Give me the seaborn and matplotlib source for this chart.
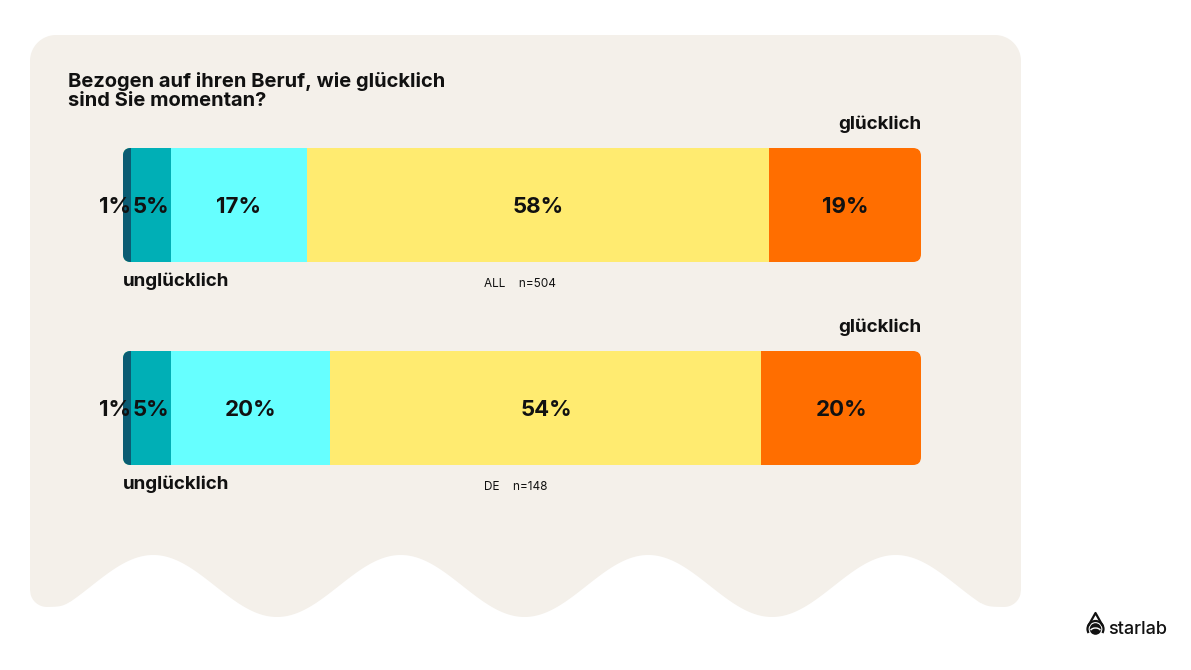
import numpy as np
import pandas as pd
import matplotlib
matplotlib.use("Agg")
import matplotlib.pyplot as plt
import seaborn as sns
from matplotlib.patches import Polygon, FancyBboxPatch, Circle, Arc
from matplotlib.path import Path
from matplotlib.patches import PathPatch

# ---------------- data ----------------
groups = ["ALL", "DE"]
sample_sizes = [504, 148]
segments = ["sehr unglücklich", "unglücklich", "neutral", "glücklich", "sehr glücklich"]
values_all = [1, 5, 17, 58, 19]
values_de = [1, 5, 20, 54, 20]
seg_colors = ["#0B5C73", "#00AFB6", "#66FFFF", "#FFEB70", "#FF6E00"]
title = "Bezogen auf ihren Beruf, wie glücklich\nsind Sie momentan?"
label_left = "unglücklich"
label_right = "glücklich"

W, H = 1191, 670
sns.set_theme(style="white")
plt.rcParams["font.family"] = ["Inter", "DejaVu Sans"]

fig = plt.figure(figsize=(W / 100, H / 100), dpi=100)
fig.patch.set_facecolor("white")

# ---------------- background panel with wavy bottom ----------------
bg = fig.add_axes([0, 0, 1, 1], zorder=0)
bg.set_xlim(0, W)
bg.set_ylim(H, 0)
bg.axis("off")
x0, x1, ytop, r = 30, 1021, 35, 26
xs = np.linspace(x0, x1, 1400)
wave = 586 + 31 * np.cos(2 * np.pi * (xs - 277) / 247.5)
rc = 17
ybase = 607
cap = np.full_like(xs, np.inf)
near = (xs < x0 + 40) | (xs > x1 - 40)
cap[near] = ybase
ml = xs < x0 + rc
cap[ml] = ybase - rc + np.sqrt(np.clip(rc**2 - (xs[ml] - (x0 + rc)) ** 2, 0, None))
mr = xs > x1 - rc
cap[mr] = ybase - rc + np.sqrt(np.clip(rc**2 - (xs[mr] - (x1 - rc)) ** 2, 0, None))
k = 2.0
bottom = -k * np.logaddexp(-wave / k, -cap / k)
pts = []
th = np.linspace(np.pi, 1.5 * np.pi, 20)
pts += [(x0 + r + r * np.cos(t), ytop + r + r * np.sin(t)) for t in th]
th = np.linspace(1.5 * np.pi, 2 * np.pi, 20)
pts += [(x1 - r + r * np.cos(t), ytop + r + r * np.sin(t)) for t in th]
pts += list(zip(xs[::-1], bottom[::-1]))
bg.add_patch(Polygon(pts, closed=True, facecolor="#F4F0EA", edgecolor="none"))

# title
bg.text(68, 91, title, fontsize=14.5, fontweight="bold", color="#111111",
        ha="left", va="center", linespacing=1.1)

# logo
cx, cy = 1095.5, 629
drop = Path([(cx - 7, cy - 3.5), (cx, cy - 16), (cx + 7, cy - 3.5)],
            [Path.MOVETO, Path.LINETO, Path.LINETO])
bg.add_patch(PathPatch(drop, facecolor="none", edgecolor="#111111", lw=1.6,
                       joinstyle="round", capstyle="round"))
bg.add_patch(Arc((cx, cy), 16, 16, theta1=-210, theta2=30, edgecolor="#111111", lw=1.6))
bg.add_patch(Circle((cx, cy), 5.8, facecolor="#111111", edgecolor="none"))
bg.add_patch(Arc((cx, cy + 3), 11, 8, theta1=200, theta2=340, edgecolor="white", lw=1.0))
bg.text(1108, 630, "starlab", fontsize=13, fontweight="medium", color="#111111",
        ha="left", va="center")

# ---------------- bars ----------------
bar_h = 114 / 203
ax_left, ax_w = 123 / W, 798 / W
ax_bottom = 1 - 509.5 / H
ax_h = 406 / H
ax = fig.add_axes([ax_left, ax_bottom, ax_w, ax_h], zorder=1)
ax.patch.set_alpha(0)

data = {"ALL": values_all, "DE": values_de}
rows = []
for g in groups:
    cum = np.cumsum(data[g])
    for s, v, c in zip(segments, data[g], cum):
        rows.append({"group": g, "segment": s, "value": v, "cum": c})
df = pd.DataFrame(rows)

for s, col in reversed(list(zip(segments, seg_colors))):
    sub = df[df["segment"] == s]
    sns.barplot(data=sub, x="cum", y="group", order=groups, color=col,
                width=bar_h, orient="h", ax=ax, linewidth=0, saturation=1,
                errorbar=None)

ax.set_xlim(0, 100)
ax.set_ylim(1.5, -0.5)
ax.axis("off")

# rounded clipping per bar
px_x = 798 / 100
px_y = 203
bars = list(ax.patches)
clips = []
for i, g in enumerate(groups):
    fb = FancyBboxPatch((0, i - bar_h / 2), 100, bar_h,
                        boxstyle="round,pad=0,rounding_size=1.0",
                        mutation_aspect=px_x / px_y,
                        transform=ax.transData, facecolor="none", edgecolor="none")
    ax.add_patch(fb)
    clips.append(fb)
for p in bars:
    yc = p.get_y() + p.get_height() / 2
    p.set_clip_path(clips[int(round(yc))])

# labels
dy = 2 / px_y
for i, g in enumerate(groups):
    vals = data[g]
    cum = np.cumsum(vals)
    for v, c in zip(vals, cum):
        if v <= 2:
            ax.text(c + 0.05, i + dy, f"{v}%", ha="right", va="center", fontsize=16,
                    fontweight="bold", color="#111111", clip_on=False)
        else:
            ax.text(c - v / 2, i + dy, f"{v}%", ha="center", va="center", fontsize=16,
                    fontweight="bold", color="#111111")
    ax.text(100, i - bar_h / 2 - 24 / px_y, label_right, ha="right", va="center",
            fontsize=13.5, fontweight="bold", color="#111111", clip_on=False)
    ax.text(0, i + bar_h / 2 + 19 / px_y, label_left, ha="left", va="center",
            fontsize=13.5, fontweight="bold", color="#111111", clip_on=False)
    ax.text(45.2, i + bar_h / 2 + 22 / px_y, f"{g}    n={sample_sizes[i]}",
            ha="left", va="center", fontsize=8.5, color="#111111", clip_on=False)

fig.savefig("out.png", dpi=100, facecolor="white")
